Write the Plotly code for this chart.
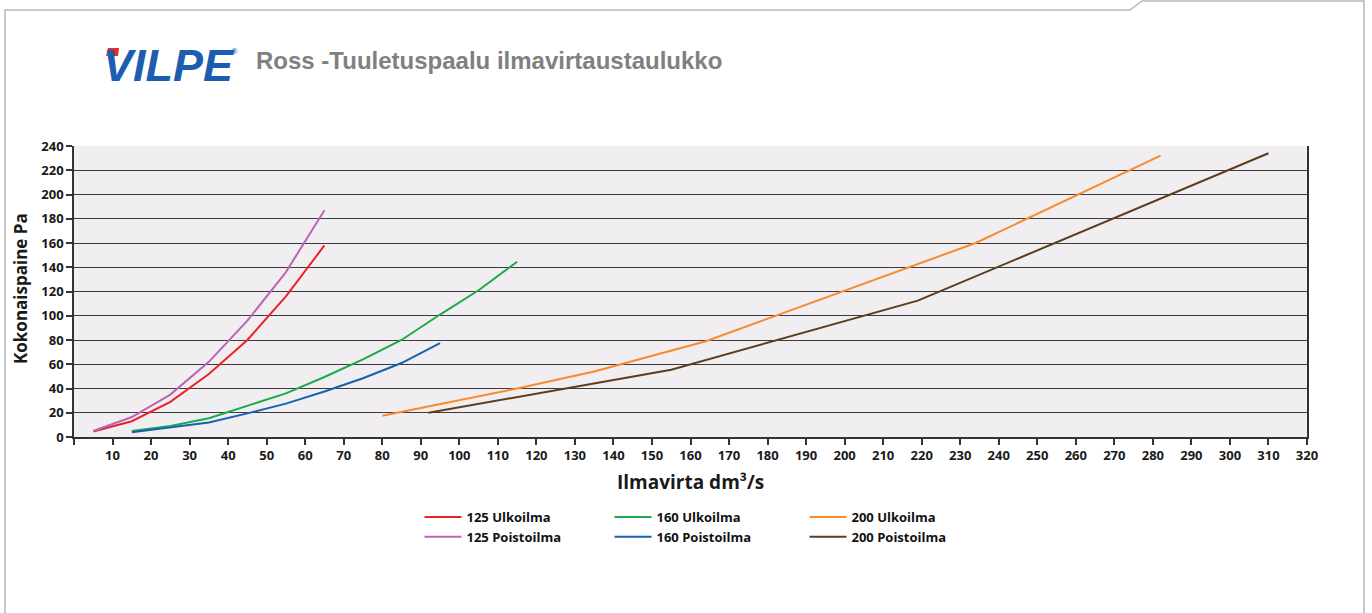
import plotly.graph_objects as go

# ---------------- data ----------------
x_125 = [5, 15, 25, 35, 45, 55, 65]
y_125_ulko = [4.5, 13, 29, 52, 80, 116, 158]
y_125_poisto = [5, 16.5, 35, 62, 96, 136, 187]

x_160_ulko = [15, 25, 35, 45, 55, 65, 75, 85, 95, 105, 115]
y_160_ulko = [5, 9, 15.5, 25.5, 36, 49.5, 64, 80, 101, 121, 144.5]
x_160_poisto = [15, 25, 35, 45, 55, 65, 75, 85, 95]
y_160_poisto = [4, 8, 12, 19.5, 27.5, 37.5, 48.5, 61, 77.5]

x_200_ulko = [80, 115, 135, 164, 234, 282]
y_200_ulko = [17.5, 40, 54, 79, 160, 232]
x_200_poisto = [92, 155, 219, 310]
y_200_poisto = [20, 55.5, 112.5, 234]

series_names = ["125 Ulkoilma", "125 Poistoilma", "160 Ulkoilma",
                "160 Poistoilma", "200 Ulkoilma", "200 Poistoilma"]

x_tickvals = list(range(0, 330, 10))
x_ticktext = [""] + [str(v) for v in range(10, 330, 10)]
y_tickvals = list(range(0, 260, 20))

title_text = "Ross -Tuuletuspaalu ilmavirtaustaulukko"
x_title = "Ilmavirta dm³/s"
y_title = "Kokonaispaine Pa"
logo_text = "VILPE"

# ---------------- layout geometry ----------------
FW, FH = 1372, 613
L, R, T, B = 74, 1307, 146, 437
W, H = R - L, B - T


def px(x):
    return (x - L) / W


def py(y):
    return (B - y) / H


colors = ["#EC2028", "#BB64B0", "#1BAA4C", "#1462B0", "#F98A2A", "#5E3C1C"]
legends = ["legend", "legend", "legend2", "legend2", "legend3", "legend3"]
xs = [x_125, x_125, x_160_ulko, x_160_poisto, x_200_ulko, x_200_poisto]
ys = [y_125_ulko, y_125_poisto, y_160_ulko, y_160_poisto, y_200_ulko, y_200_poisto]

FONT = "Open Sans, DejaVu Sans, sans-serif"

fig = go.Figure()
for name, x, y, c, lg in zip(series_names, xs, ys, colors, legends):
    fig.add_trace(go.Scatter(x=x, y=y, name=name, mode="lines",
                             line=dict(color=c, width=2), legend=lg,
                             hoverinfo="x+y+name"))

leg_common = dict(orientation="v", xref="container", yref="container",
                  xanchor="left", yanchor="top", bgcolor="rgba(0,0,0,0)",
                  font=dict(family=FONT, size=13, color="#111111", weight="bold"),
                  tracegroupgap=0, itemwidth=37)
legend_top = 1 - 502 / FH

fig.update_layout(
    width=FW, height=FH, autosize=False,
    margin=dict(l=L, r=FW - R, t=T, b=FH - B, pad=0, autoexpand=False),
    paper_bgcolor="white",
    plot_bgcolor="#F0EEF1",
    showlegend=True,
    legend=dict(x=419.5 / FW, y=legend_top, **leg_common),
    legend2=dict(x=609.5 / FW, y=legend_top, **leg_common),
    legend3=dict(x=804.5 / FW, y=legend_top, **leg_common),
    xaxis=dict(range=[0, 320], tickvals=x_tickvals, ticktext=x_ticktext,
               showgrid=False, zeroline=False, showline=True,
               linecolor="#333333", linewidth=1.5,
               ticks="outside", ticklen=6, tickcolor="#333333", tickwidth=1.5,
               tickfont=dict(family=FONT, size=13, color="#1a1a1a", weight="bold")),
    yaxis=dict(range=[0, 240], tickvals=y_tickvals,
               showgrid=True, gridcolor="#3c3c3c", gridwidth=1.2,
               zeroline=False, showline=True, mirror=True,
               linecolor="#333333", linewidth=1.5,
               ticks="outside", ticklen=6, tickcolor="#333333", tickwidth=1.5,
               tickfont=dict(family=FONT, size=13, color="#1a1a1a", weight="bold")),
)

# axis titles
fig.add_annotation(text=f"<b>{x_title}</b>", xref="paper", yref="paper",
                   x=px(690), y=py(482), xanchor="center", yanchor="middle",
                   showarrow=False,
                   font=dict(family=FONT, size=19, color="#1a1a1a"))
fig.add_annotation(text=f"<b>{y_title}</b>", xref="paper", yref="paper",
                   x=px(20), y=py(289), xanchor="center", yanchor="middle",
                   textangle=-90, showarrow=False,
                   font=dict(family=FONT, size=17, color="#1a1a1a"))

# page frame
frame = (f"M {px(5)},{py(613)} L {px(5)},{py(10)} L {px(1130)},{py(10)} "
         f"L {px(1142)},{py(1)} L {px(1364)},{py(1)} L {px(1364)},{py(613)}")
fig.add_shape(type="path", path=frame, xref="paper", yref="paper",
              line=dict(color="#B8B8B8", width=1.5), layer="below")

# logo
fig.add_annotation(text=f"<i><b>{logo_text}</b></i>", xref="paper", yref="paper",
                   x=px(101), y=py(65), xanchor="left", yanchor="middle",
                   showarrow=False,
                   font=dict(family="Liberation Sans, sans-serif",
                             size=45, color="#1C5DB0"))
red_accent = (f"M {px(108)},{py(48)} L {px(119)},{py(48)} L {px(118)},{py(56)} "
              f"L {px(106)},{py(56)} Z")
fig.add_shape(type="path", path=red_accent, xref="paper", yref="paper",
              fillcolor="#E42A2E", line=dict(width=0))
fig.add_annotation(text="®", xref="paper", yref="paper",
                   x=px(234), y=py(50), xanchor="center", yanchor="middle",
                   showarrow=False, font=dict(family=FONT, size=8, color="#1C5DB0"))

fig.add_annotation(text=f"<b>{title_text}</b>", xref="paper", yref="paper",
                   x=px(254), y=py(61), xanchor="left", yanchor="middle",
                   showarrow=False,
                   font=dict(family="Liberation Sans, sans-serif",
                             size=24, color="#808080"))

fig.write_html("out.html", config={"displayModeBar": False},
               post_script="document.body.style.margin='0';document.body.style.overflow='hidden';")
